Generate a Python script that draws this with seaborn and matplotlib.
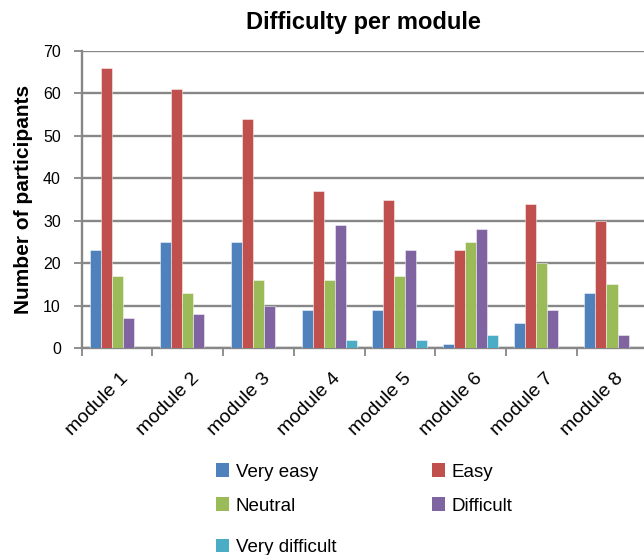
import matplotlib
matplotlib.use("Agg")
import matplotlib.pyplot as plt
import matplotlib.transforms as mtransforms
from matplotlib.patches import Patch
import pandas as pd
import seaborn as sns

modules = ["module 1", "module 2", "module 3", "module 4",
           "module 5", "module 6", "module 7", "module 8"]
very_easy = [23, 25, 25, 9, 9, 1, 6, 13]
easy = [66, 61, 54, 37, 35, 23, 34, 30]
neutral = [17, 13, 16, 16, 17, 25, 20, 15]
difficult = [7, 8, 10, 29, 23, 28, 9, 3]
very_difficult = [0, 0, 0, 2, 2, 3, 0, 0]

levels = ["Very easy", "Easy", "Neutral", "Difficult", "Very difficult"]
colors = ["#4F81BD", "#C0504D", "#9BBB59", "#8064A2", "#4BACC6"]

rows = []
for name, vals in zip(levels, [very_easy, easy, neutral, difficult, very_difficult]):
    for m, v in zip(modules, vals):
        rows.append({"module": m, "level": name, "count": v})
df = pd.DataFrame(rows)

sns.set_theme(style="white")
plt.rcParams["font.family"] = ["Liberation Sans", "DejaVu Sans"]
plt.rcParams["text.color"] = "black"
plt.rcParams["axes.labelcolor"] = "black"
plt.rcParams["xtick.color"] = "black"
plt.rcParams["ytick.color"] = "black"

fig = plt.figure(figsize=(6.44, 5.55), dpi=100)
ax = fig.add_axes([0.1269, 0.373, 0.8783, 0.535])

sns.barplot(data=df, x="module", y="count", hue="level", order=modules,
            hue_order=levels, palette=colors, width=0.78, gap=0,
            edgecolor=(1, 1, 1, 0.55), linewidth=0.6, saturation=1,
            legend=False, ax=ax, zorder=3)

grid_c = "#878787"
ax.set_xlim(-0.5, 7.5)
ax.set_ylim(0, 70)
ax.set_yticks(range(0, 71, 10))
ax.yaxis.grid(True, color=grid_c, linewidth=1.7, zorder=0)
ax.set_axisbelow(True)
for side in ["top", "right"]:
    ax.spines[side].set_visible(False)
for side in ["left", "bottom"]:
    ax.spines[side].set_color(grid_c)
    ax.spines[side].set_linewidth(1.7)

ax.tick_params(axis="y", which="major", direction="out", length=5.5, width=1.3,
               color=grid_c, labelcolor="black", labelsize=11.5, pad=9.5, left=True)
ax.set_xticks(range(len(modules)))
ax.set_xticklabels(modules, rotation=45, ha="right", va="top",
                   rotation_mode="anchor", fontsize=14)
ax.tick_params(axis="x", which="major", length=0, pad=15.5)
ax.set_xticks([i - 0.5 for i in range(len(modules) + 1)], minor=True)
ax.tick_params(axis="x", which="minor", direction="out", length=5.5, width=1.3,
               color=grid_c, bottom=True)
shift = mtransforms.ScaledTranslation(3 / 100, 0, fig.dpi_scale_trans)
for lbl in ax.get_xticklabels():
    lbl.set_transform(lbl.get_transform() + shift)

ax.set_xlabel("")
ax.set_ylabel("Number of participants", fontsize=15, fontweight="bold")
ax.yaxis.set_label_coords(-0.086, 0.5)

fig.text(0.564, 0.960, "Difficulty per module", ha="center", va="center",
         fontsize=17, fontweight="bold")

def handle(i):
    return Patch(facecolor=colors[i], edgecolor="none")

leg_kw = dict(frameon=False, fontsize=13.5, handlelength=0.7, handleheight=0.7,
              handletextpad=0.35, borderaxespad=0, borderpad=0,
              bbox_transform=fig.transFigure, loc="upper left")
top = [0, 2, 1, 3]
leg1 = fig.legend([handle(i) for i in top], [levels[i] for i in top], ncol=2,
                  bbox_to_anchor=(0.3354, 0.165), columnspacing=6.1,
                  labelspacing=0.9, **leg_kw)
leg2 = fig.legend([handle(4)], [levels[4]], bbox_to_anchor=(0.3354, 0.029),
                  **leg_kw)

fig.savefig("out.png", dpi=100)
